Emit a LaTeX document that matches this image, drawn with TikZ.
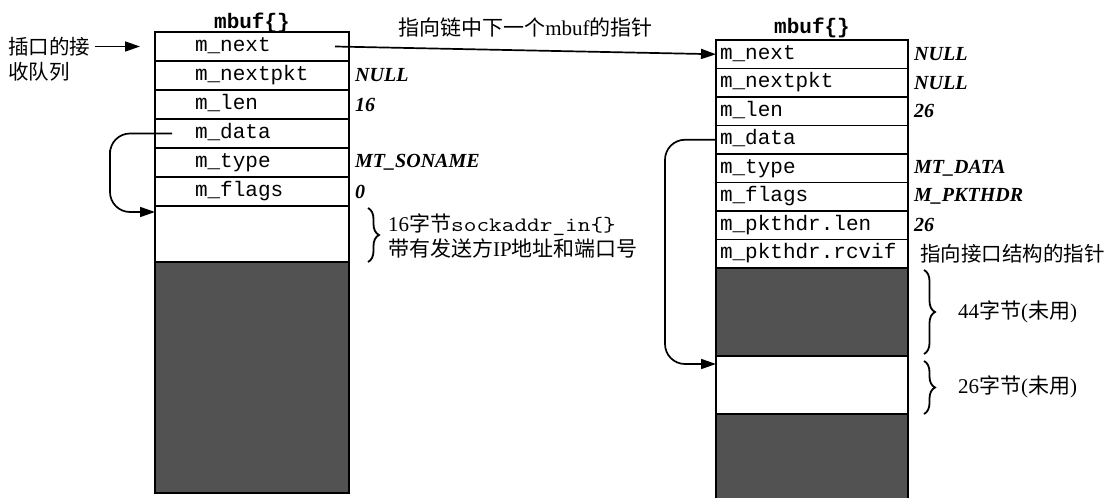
\documentclass[tikz,border=0pt]{standalone}
\usepackage{fontspec}
\usepackage{graphicx}
\usetikzlibrary{arrows.meta,decorations.pathreplacing}
\setmainfont{Liberation Serif}
\newfontfamily\cjk{Noto Sans CJK SC}
\newfontfamily\cour{Liberation Mono}

\tikzset{
  lfield/.style={draw, line width=1.9pt, anchor=north west, inner ysep=0pt, outer sep=0pt,
    inner xsep=40pt, text width=114pt, text height=15pt, text depth=5pt,
    minimum height=29pt, align=left, font=\cour\fontsize{21}{25}\selectfont},
  rfield/.style={lfield, inner xsep=4pt, text width=184pt, minimum height=28.5pt},
  blank/.style={draw, line width=1.9pt, anchor=north west, fill=white, inner sep=0pt, outer sep=0pt},
  unused/.style={blank, fill=black!68},
  val/.style={anchor=west, inner sep=0pt, xshift=6pt,
    font=\bfseries\itshape\fontsize{20}{24}\selectfont},
  ttl/.style={anchor=base, inner sep=0pt, font=\cour\bfseries\fontsize{21}{25}\selectfont},
  note/.style={anchor=west, inner sep=0pt, align=left, font=\fontsize{21}{25}\selectfont},
  ptr/.style={line width=1.7pt, -{Triangle[length=15pt, width=10pt]}},
  brc/.style={decorate, decoration={brace, amplitude=11pt}, line width=1.8pt},
}

\begin{document}
\begin{tikzpicture}[x=1pt, y=-1pt]
    \useasboundingbox (0,0) rectangle (1106,498);
    % left mbuf
    \node[lfield] (ln1) at (155,32) {m\_next};
    \node[lfield] (ln2) at (ln1.south west) {m\_nextpkt};
    \node[lfield] (ln3) at (ln2.south west) {m\_len};
    \node[lfield] (ln4) at (ln3.south west) {m\_data};
    \node[lfield] (ln5) at (ln4.south west) {m\_type};
    \node[lfield] (ln6) at (ln5.south west) {m\_flags};
    \node[blank, minimum width=194pt, minimum height=56pt] (lw) at (ln6.south west) {};
    \node[unused, minimum width=194pt, minimum height=231pt] (lg) at (lw.south west) {};
    \node[ttl] (lt) at ([yshift=4pt]ln1.north) {mbuf\{\}};
    \node[val] (lv2) at (ln2.east) {NULL};
    \node[val] (lv3) at (ln3.east) {16};
    \node[val] (lv5) at (ln5.east) {MT\_SONAME};
    \node[val] (lv6) at (ln6.east) {0};
    % receive queue
    \node[anchor=west, inner sep=0pt, align=left, font=\cjk\fontsize{20.5}{25}\selectfont]
      (rcvq) at (8,59.5) {插口的接\\收队列};
    \draw[ptr] ([xshift=5pt]rcvq.east |- ln1.west) -- ([xshift=-15pt]ln1.west);
    % m_data -> data
    \coordinate (lbend) at (110,170);
    \draw[ptr, rounded corners=20pt] ([xshift=17pt]ln4.west) -| (lbend) |- ([yshift=-6pt]lw.north west);
    \draw[brc] ([xshift=19pt,yshift=-2pt]lw.north east) -- ([xshift=19pt]lw.south east);
    \node[note] (lnote) at ([xshift=39pt,yshift=-2pt]lw.east)
      {16{\cjk 字节}\scalebox{1.2}[1]{\fontsize{20.5}{24}\selectfont\ttfamily sockaddr\_in\{\}}\\
       {\cjk 带有发送方}IP{\cjk 地址和端口号}};
    % right mbuf
    \node[rfield] (rn1) at (716,40) {m\_next};
    \node[rfield] (rn2) at (rn1.south west) {m\_nextpkt};
    \node[rfield] (rn3) at (rn2.south west) {m\_len};
    \node[rfield] (rn4) at (rn3.south west) {m\_data};
    \node[rfield] (rn5) at (rn4.south west) {m\_type};
    \node[rfield] (rn6) at (rn5.south west) {m\_flags};
    \node[rfield] (rn7) at (rn6.south west) {m\_pkthdr.len};
    \node[rfield] (rn8) at (rn7.south west) {m\_pkthdr.rcvif};
    \node[unused, minimum width=192pt, minimum height=88pt] (rg1) at (rn8.south west) {};
    \node[blank, minimum width=192pt, minimum height=58pt] (rw) at (rg1.south west) {};
    \node[unused, minimum width=192pt, minimum height=90pt] (rg2) at (rw.south west) {};
    \node[ttl] (rt) at ([yshift=7pt]rn1.north) {mbuf\{\}};
    \node[val] (rv1) at (rn1.east) {NULL};
    \node[val] (rv2) at (rn2.east) {NULL};
    \node[val] (rv3) at (rn3.east) {26};
    \node[val] (rv5) at (rn5.east) {MT\_DATA};
    \node[val] (rv6) at (rn6.east) {M\_PKTHDR};
    \node[val] (rv7) at (rn7.east) {26};
    \node[val, xshift=6pt, font=\cjk\fontsize{20.5}{24}\selectfont] (rv8) at (rn8.east) {指向接口结构的指针};
    % m_data -> data
    \coordinate (rbend) at (665,250);
    \draw[ptr, rounded corners=20pt] (rn4.west) -| (rbend) |- ([yshift=-8pt]rw.north west);
    \draw[brc] ([xshift=16pt,yshift=-2pt]rg1.north east) -- ([xshift=16pt,yshift=2pt]rg1.south east);
    \node[note] (rnote1) at ([xshift=50pt]rg1.east) {44{\cjk 字节}({\cjk 未用})};
    \draw[brc] ([xshift=16pt,yshift=-5pt]rw.north east) -- ([xshift=16pt]rw.south east);
    \node[note] (rnote2) at ([xshift=50pt,yshift=-2pt]rw.east) {26{\cjk 字节}({\cjk 未用})};
    % m_next -> next mbuf
    \draw[ptr] ([xshift=-14pt]ln1.east) -- (rn1.west)
      node[midway, above=12pt, inner sep=0pt, font=\fontsize{21}{25}\selectfont] (nxtlbl)
      {{\cjk 指向链中下一个}mbuf{\cjk 的指针}};
\end{tikzpicture}
\end{document}
